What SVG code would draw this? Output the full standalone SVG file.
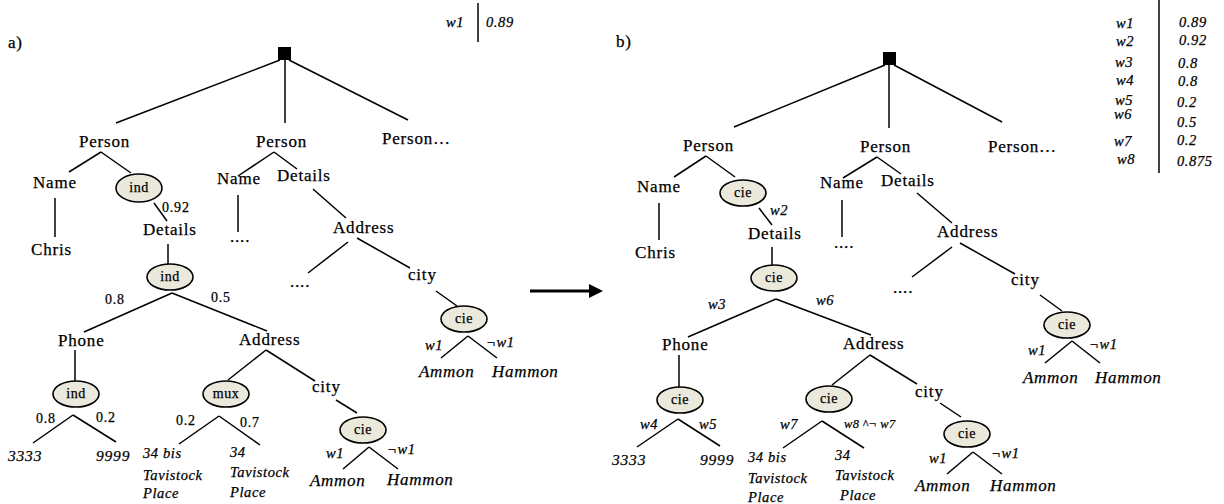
<svg xmlns="http://www.w3.org/2000/svg" width="1224" height="504" viewBox="0 0 1224 504">
<style>
text{font-family:"Liberation Serif","Times New Roman",serif;fill:#000;stroke:#000;stroke-width:.25px}
.t{font-size:17px;letter-spacing:.8px}
.i{font-size:17px;font-style:italic;letter-spacing:.7px}
.s{font-size:14.5px;font-style:italic;letter-spacing:.6px}
.d{font-size:15.5px;font-style:italic;letter-spacing:.8px}
.n{font-size:14px;letter-spacing:.8px}
.x{font-size:12.5px;font-style:italic;letter-spacing:.3px}
.o{font-size:14px;letter-spacing:.5px;text-anchor:middle}
.e{fill:#ebe8dc;stroke:#000;stroke-width:1.6}
.l line{stroke:#000;stroke-width:1.5}
</style>
<rect width="1224" height="504" fill="#fff"/>
<g id="connectors" class="l">
<line x1="280" y1="60" x2="116" y2="123"/><line x1="285" y1="60" x2="285" y2="123"/><line x1="289" y1="60" x2="408" y2="120"/>
<line x1="101" y1="152" x2="69" y2="172"/><line x1="101" y1="152" x2="131" y2="173"/>
<line x1="55" y1="198" x2="55" y2="237"/><line x1="154" y1="203" x2="167" y2="221"/>
<line x1="168" y1="244" x2="168" y2="265"/>
<line x1="172" y1="293" x2="84" y2="332"/><line x1="172" y1="293" x2="267" y2="331"/>
<line x1="75" y1="350" x2="75" y2="382"/>
<line x1="73" y1="415" x2="33" y2="443"/><line x1="73" y1="415" x2="116" y2="442"/>
<line x1="266" y1="350" x2="228" y2="380"/><line x1="266" y1="350" x2="315" y2="381"/>
<line x1="219" y1="416" x2="179" y2="444"/><line x1="219" y1="416" x2="260" y2="445"/>
<line x1="336" y1="400" x2="357" y2="413"/>
<line x1="369" y1="447" x2="343" y2="469"/><line x1="369" y1="447" x2="398" y2="469"/>
<line x1="274" y1="152" x2="238" y2="176"/><line x1="274" y1="152" x2="297" y2="169"/>
<line x1="238" y1="195" x2="238" y2="232"/><line x1="313" y1="189" x2="346" y2="218"/>
<line x1="348" y1="242" x2="308" y2="273"/><line x1="357" y1="238" x2="410" y2="268"/>
<line x1="436" y1="291" x2="457" y2="306"/>
<line x1="468" y1="336" x2="441" y2="358"/><line x1="468" y1="336" x2="497" y2="358"/>
<line x1="478" y1="3" x2="478" y2="42"/>
<line x1="530" y1="291" x2="591" y2="291" style="stroke-width:3"/>
<polygon points="589,284 603,291 589,298" fill="#000"/>
<line x1="885" y1="65" x2="734" y2="127"/><line x1="889" y1="65" x2="889" y2="128"/><line x1="894" y1="65" x2="1002" y2="122"/>
<line x1="706" y1="156" x2="674" y2="177"/><line x1="706" y1="156" x2="735" y2="177"/>
<line x1="659" y1="203" x2="659" y2="240"/><line x1="759" y1="208" x2="772" y2="225"/>
<line x1="772" y1="247" x2="772" y2="265"/>
<line x1="776" y1="299" x2="688" y2="337"/><line x1="776" y1="299" x2="871" y2="335"/>
<line x1="679" y1="355" x2="679" y2="387"/>
<line x1="678" y1="419" x2="637" y2="447"/><line x1="678" y1="419" x2="720" y2="446"/>
<line x1="870" y1="355" x2="832" y2="385"/><line x1="870" y1="355" x2="917" y2="384"/>
<line x1="822" y1="421" x2="783" y2="448"/><line x1="822" y1="421" x2="864" y2="448"/>
<line x1="940" y1="403" x2="961" y2="417"/>
<line x1="973" y1="452" x2="947" y2="474"/><line x1="973" y1="452" x2="1002" y2="474"/>
<line x1="877" y1="157" x2="843" y2="178"/><line x1="877" y1="157" x2="901" y2="174"/>
<line x1="842" y1="200" x2="842" y2="237"/><line x1="917" y1="193" x2="952" y2="223"/>
<line x1="952" y1="247" x2="912" y2="277"/><line x1="960" y1="243" x2="1015" y2="274"/>
<line x1="1040" y1="295" x2="1062" y2="311"/>
<line x1="1072" y1="341" x2="1045" y2="363"/><line x1="1072" y1="341" x2="1100" y2="363"/>
<line x1="1159" y1="0" x2="1159" y2="173"/>
</g>
<g id="edge-labels">
<text class="n" x="162" y="212">0.92</text>
<text class="n" x="105" y="304">0.8</text><text class="n" x="211" y="302">0.5</text>
<text class="n" x="36" y="423">0.8</text><text class="n" x="96" y="422">0.2</text>
<text class="n" x="176" y="425">0.2</text><text class="n" x="240" y="427">0.7</text>
<text class="s" x="326" y="458">w1</text><text class="s" x="387" y="454">¬w1</text>
<text class="s" x="425" y="350">w1</text><text class="s" x="486" y="347">¬w1</text>
<text class="s" x="770" y="215">w2</text>
<text class="s" x="708" y="309">w3</text><text class="s" x="816" y="305">w6</text>
<text class="s" x="640" y="429">w4</text><text class="s" x="699" y="429">w5</text>
<text class="s" x="780" y="429">w7</text><text class="x" x="844" y="428">w8 ^¬ w7</text>
<text class="s" x="929" y="463">w1</text><text class="s" x="991" y="458">¬w1</text>
<text class="s" x="1028" y="355">w1</text><text class="s" x="1089" y="349">¬w1</text>
</g>
<g id="label-a"><text class="t" x="8" y="48">a)</text></g>
<g id="label-b"><text class="t" x="616" y="47">b)</text></g>
<g id="table-a">
<text class="s" x="446" y="27">w1</text><text class="s" x="486" y="27">0.89</text>
</g>
<g id="table-b">
<text class="s" x="1116" y="28">w1</text><text class="s" x="1179" y="27">0.89</text>
<text class="s" x="1116" y="46">w2</text><text class="s" x="1179" y="45">0.92</text>
<text class="s" x="1115" y="67">w3</text><text class="s" x="1178" y="68">0.8</text>
<text class="s" x="1116" y="85">w4</text><text class="s" x="1178" y="86">0.8</text>
<text class="s" x="1115" y="105">w5</text><text class="s" x="1177" y="107">0.2</text>
<text class="s" x="1114" y="119">w6</text><text class="s" x="1177" y="127">0.5</text>
<text class="s" x="1114" y="146">w7</text><text class="s" x="1177" y="145">0.2</text>
<text class="s" x="1117" y="164">w8</text><text class="s" x="1177" y="166">0.875</text>
</g>
<g id="a-root"><rect x="278" y="47" width="13" height="13" fill="#000"/></g>
<g id="a-person1"><text class="t" x="79" y="147">Person</text></g>
<g id="a-name1"><text class="t" x="33" y="188">Name</text></g>
<g id="a-chris"><text class="t" x="31" y="255">Chris</text></g>
<g id="a-ind1"><ellipse class="e" cx="139" cy="188" rx="23" ry="14"/><text class="o" x="139" y="192">ind</text></g>
<g id="a-details1"><text class="t" x="143" y="235">Details</text></g>
<g id="a-ind2"><ellipse class="e" cx="170" cy="277" rx="23" ry="13"/><text class="o" x="170" y="281">ind</text></g>
<g id="a-phone"><text class="t" x="58" y="346">Phone</text></g>
<g id="a-address1"><text class="t" x="239" y="345">Address</text></g>
<g id="a-ind3"><ellipse class="e" cx="76" cy="394" rx="23" ry="13"/><text class="o" x="76" y="398">ind</text></g>
<g id="a-3333"><text class="d" x="8" y="461">3333</text></g>
<g id="a-9999"><text class="d" x="96" y="461">9999</text></g>
<g id="a-mux"><ellipse class="e" cx="226" cy="394" rx="23" ry="13"/><text class="o" x="226" y="398">mux</text></g>
<g id="a-34bis"><text class="s" x="143" y="458">34 bis</text><text class="s" x="143" y="480">Tavistock</text><text class="s" x="143" y="498">Place</text></g>
<g id="a-34"><text class="s" x="230" y="457">34</text><text class="s" x="230" y="477">Tavistock</text><text class="s" x="230" y="497">Place</text></g>
<g id="a-city1"><text class="t" x="312" y="392">city</text></g>
<g id="a-cie1"><ellipse class="e" cx="363" cy="430" rx="23" ry="13"/><text class="o" x="363" y="434">cie</text></g>
<g id="a-ammon1"><text class="i" x="310" y="486">Ammon</text></g>
<g id="a-hammon1"><text class="i" x="387" y="485">Hammon</text></g>
<g id="a-person2"><text class="t" x="256" y="147">Person</text></g>
<g id="a-name2"><text class="t" x="217" y="184">Name</text></g>
<g id="a-details2"><text class="t" x="277" y="181">Details</text></g>
<g id="a-dots1"><text class="t" x="230" y="242">....</text></g>
<g id="a-address2"><text class="t" x="333" y="233">Address</text></g>
<g id="a-dots2"><text class="t" x="290" y="287">....</text></g>
<g id="a-city2"><text class="t" x="408" y="280">city</text></g>
<g id="a-cie2"><ellipse class="e" cx="464" cy="319" rx="23" ry="13"/><text class="o" x="464" y="323">cie</text></g>
<g id="a-ammon2"><text class="i" x="419" y="377">Ammon</text></g>
<g id="a-hammon2"><text class="i" x="492" y="377">Hammon</text></g>
<g id="a-person3"><text class="t" x="382" y="144">Person…</text></g>
<g id="b-root"><rect x="883" y="52" width="13" height="13" fill="#000"/></g>
<g id="b-person1"><text class="t" x="683" y="151">Person</text></g>
<g id="b-name1"><text class="t" x="637" y="192">Name</text></g>
<g id="b-chris"><text class="t" x="635" y="258">Chris</text></g>
<g id="b-cie1"><ellipse class="e" cx="743" cy="193" rx="23" ry="13"/><text class="o" x="743" y="197">cie</text></g>
<g id="b-details1"><text class="t" x="748" y="239">Details</text></g>
<g id="b-cie2"><ellipse class="e" cx="774" cy="278" rx="23" ry="13"/><text class="o" x="774" y="282">cie</text></g>
<g id="b-phone"><text class="t" x="662" y="350">Phone</text></g>
<g id="b-address1"><text class="t" x="843" y="349">Address</text></g>
<g id="b-cie3"><ellipse class="e" cx="680" cy="400" rx="23" ry="13"/><text class="o" x="680" y="404">cie</text></g>
<g id="b-3333"><text class="d" x="612" y="465">3333</text></g>
<g id="b-9999"><text class="d" x="700" y="465">9999</text></g>
<g id="b-cie4"><ellipse class="e" cx="829" cy="399" rx="23" ry="13"/><text class="o" x="829" y="403">cie</text></g>
<g id="b-34bis"><text class="s" x="748" y="462">34 bis</text><text class="s" x="748" y="483">Tavistock</text><text class="s" x="748" y="502">Place</text></g>
<g id="b-34"><text class="s" x="835" y="460">34</text><text class="s" x="835" y="480">Tavistock</text><text class="s" x="840" y="500">Place</text></g>
<g id="b-city1"><text class="t" x="915" y="397">city</text></g>
<g id="b-cie5"><ellipse class="e" cx="967" cy="434" rx="23" ry="13"/><text class="o" x="967" y="438">cie</text></g>
<g id="b-ammon1"><text class="i" x="915" y="491">Ammon</text></g>
<g id="b-hammon1"><text class="i" x="990" y="491">Hammon</text></g>
<g id="b-person2"><text class="t" x="860" y="152">Person</text></g>
<g id="b-name2"><text class="t" x="820" y="188">Name</text></g>
<g id="b-details2"><text class="t" x="881" y="186">Details</text></g>
<g id="b-dots1"><text class="t" x="834" y="248">....</text></g>
<g id="b-address2"><text class="t" x="937" y="237">Address</text></g>
<g id="b-dots2"><text class="t" x="893" y="293">....</text></g>
<g id="b-city2"><text class="t" x="1011" y="285">city</text></g>
<g id="b-cie6"><ellipse class="e" cx="1067" cy="325" rx="23" ry="13"/><text class="o" x="1067" y="329">cie</text></g>
<g id="b-ammon2"><text class="i" x="1023" y="383">Ammon</text></g>
<g id="b-hammon2"><text class="i" x="1095" y="383">Hammon</text></g>
<g id="b-person3"><text class="t" x="988" y="152">Person…</text></g>
</svg>
